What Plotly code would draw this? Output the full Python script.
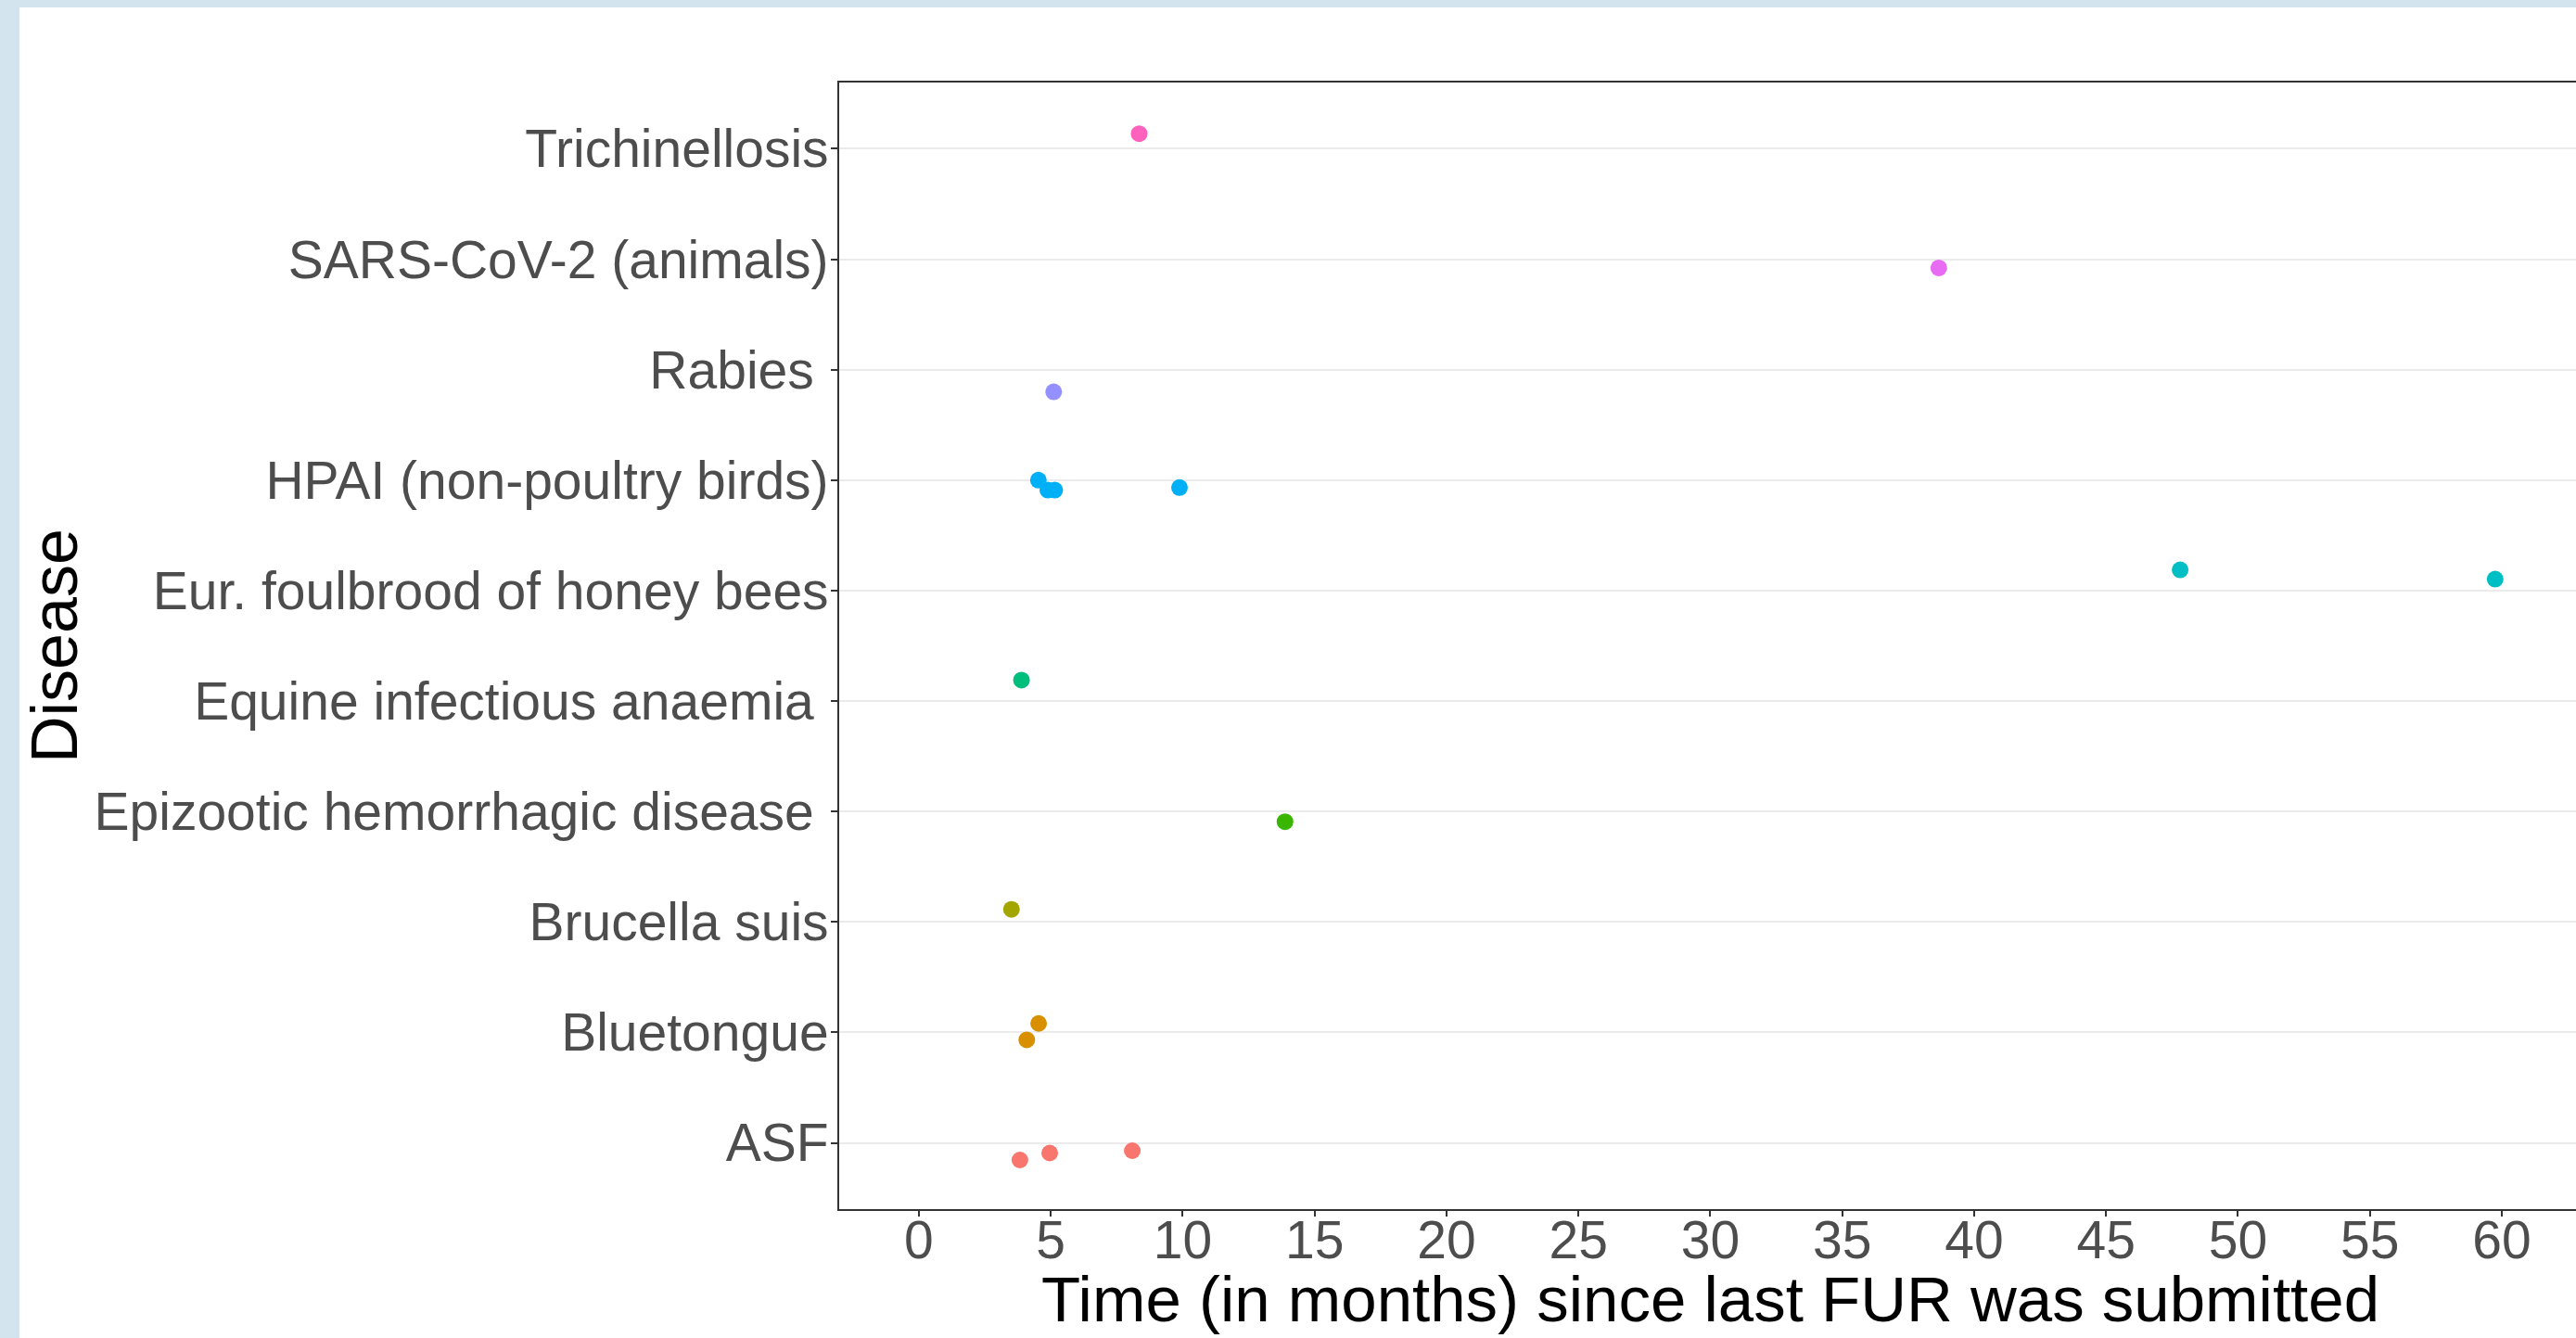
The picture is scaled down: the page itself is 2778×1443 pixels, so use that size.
import plotly.graph_objects as go

# ---- data ----
diseases = ["ASF", "Bluetongue", "Brucella suis", "Epizootic hemorrhagic disease\u00a0",
            "Equine infectious anaemia\u00a0", "Eur. foulbrood of honey bees",
            "HPAI (non-poultry birds)", "Rabies\u00a0", "SARS-CoV-2 (animals)", "Trichinellosis"]
colors = ["#F8766D", "#D89000", "#A3A500", "#39B600", "#00BF7D",
          "#00BFC4", "#00B0F6", "#9590FF", "#E76BF3", "#FF62BC"]

point_disease = [0, 0, 0, 1, 1, 2, 3, 4, 5, 5, 6, 6, 6, 6, 7, 8, 9]
months = [3.83, 4.96, 8.09, 4.54, 4.09, 3.51, 13.88, 3.89, 47.81, 59.75,
          4.53, 4.89, 5.15, 9.88, 5.11, 38.66, 8.35]
jitter = [-0.155, -0.092, -0.071, 0.081, -0.067, 0.114, -0.092, 0.19, 0.188, 0.104,
          0.0, -0.09, -0.09, -0.067, -0.2, -0.078, 0.137]

x_ticks = list(range(0, 61, 5))

fig = go.Figure()
for i, name in enumerate(diseases):
    xs = [m for m, d in zip(months, point_disease) if d == i]
    ys = [i + 1 + j for j, d in zip(jitter, point_disease) if d == i]
    fig.add_trace(go.Scatter(x=xs, y=ys, mode="markers", name=name.strip(),
                             marker=dict(color=colors[i], size=18, line=dict(width=0)),
                             showlegend=False))

W, H = 2778, 1443
L, R, T, B = 905, 0, 89, 139
pw, ph = W - L - R, H - T - B

def px_x(p):
    return (p - L) / pw

def px_y(p):
    return (H - B - p) / ph

fig.update_layout(
    width=W, height=H,
    margin=dict(l=L, r=R, t=T, b=B, pad=0),
    paper_bgcolor="#D3E4EE",
    plot_bgcolor="white",
    font=dict(family="Liberation Sans, Arial, sans-serif"),
    shapes=[dict(type="rect", xref="paper", yref="paper", layer="below",
                 x0=px_x(21), x1=px_x(W + 10), y0=px_y(H + 10), y1=px_y(8),
                 fillcolor="white", line=dict(width=0))],
    xaxis=dict(range=[-3.02, -3.02 + pw / 28.45], tickvals=x_ticks,
               ticktext=[str(v) for v in x_ticks],
               showgrid=False, zeroline=False,
               showline=True, mirror=True, linecolor="#333333", linewidth=2,
               ticks="outside", ticklen=6, tickwidth=2, tickcolor="#333333",
               ticklabelstandoff=-23,
               tickfont=dict(size=57, color="#4D4D4D")),
    yaxis=dict(range=[0.4, 10.6], tickvals=list(range(1, 11)), ticktext=diseases,
               showgrid=True, gridcolor="#EBEBEB", gridwidth=2, zeroline=False,
               showline=True, mirror=False, linecolor="#333333", linewidth=2,
               ticks="outside", ticklen=7, tickwidth=2, tickcolor="#333333",
               ticklabelstandoff=-9,
               tickfont=dict(size=57, color="#4D4D4D")),
    annotations=[
        dict(text="Time (in months) since last FUR was submitted", xref="paper", yref="paper",
             x=px_x(1844), y=px_y(1401), xanchor="center", yanchor="middle",
             showarrow=False, font=dict(size=69, color="black")),
        dict(text="Disease", xref="paper", yref="paper", textangle=-90,
             x=px_x(59), y=px_y(697), xanchor="center", yanchor="middle",
             showarrow=False, font=dict(size=70, color="black")),
    ],
)

fig.write_html("out.html", config={"displayModeBar": False},
               post_script="document.body.style.margin='0';document.body.style.overflow='hidden';")
